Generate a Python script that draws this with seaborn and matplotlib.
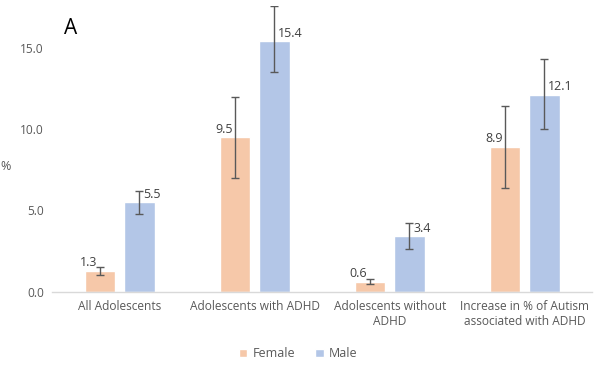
import numpy as np
import pandas as pd
import matplotlib.pyplot as plt
import seaborn as sns

# Data
groups = ["All Adolescents", "Adolescents with ADHD", "Adolescents without\nADHD",
          "Increase in % of Autism\nassociated with ADHD"]
female = [1.3, 9.5, 0.6, 8.9]
male = [5.5, 15.4, 3.4, 12.1]
female_lo = [1.05, 7.0, 0.45, 6.4]
female_hi = [1.55, 12.0, 0.8, 11.4]
male_lo = [4.8, 13.5, 2.6, 10.0]
male_hi = [6.2, 17.6, 4.2, 14.3]

df = pd.DataFrame({
    "group": groups * 2,
    "sex": ["Female"] * 4 + ["Male"] * 4,
    "value": female + male,
    "lo": female_lo + male_lo,
    "hi": female_hi + male_hi,
})

sns.set_theme(style="white")
plt.rcParams["font.family"] = ["Open Sans", "DejaVu Sans"]
text_col = "#595959"

fig = plt.figure(figsize=(6, 3.75), dpi=100)
ax = fig.add_axes([0.087, 0.222, 0.9, 0.763])

palette = {"Female": "#F6C8A9", "Male": "#B3C6E7"}
sns.barplot(data=df, x="group", y="value", hue="sex", palette=palette,
            width=0.58, gap=0.22, errorbar=None, saturation=1, ax=ax)

# error bars and labels, placed on the drawn bars
for cont, sex in zip(ax.containers, ["Female", "Male"]):
    sub = df[df.sex == sex].reset_index(drop=True)
    for bar, (_, row) in zip(cont.patches, sub.iterrows()):
        xc = bar.get_x() + bar.get_width() / 2
        v = row["value"]
        ax.errorbar(xc, v, yerr=[[v - row["lo"]], [row["hi"] - v]], fmt="none",
                    ecolor="#595959", elinewidth=1, capsize=3, capthick=1)
        if sex == "Female":
            ax.text(xc - 0.02, v + 0.1, f"{v:.1f}", ha="right", va="bottom",
                    fontsize=9, color="#404040")
        else:
            ax.text(xc + 0.03, v + 0.1, f"{v:.1f}", ha="left", va="bottom",
                    fontsize=9, color="#404040")

ax.set_ylim(0, 17.6)
ax.set_xlim(-0.5, 3.5)
ax.set_yticks([0, 5, 10, 15])
ax.set_yticklabels(["0.0", "5.0", "10.0", "15.0"])
ax.set_xlabel("")
ax.set_ylabel("")
ax.tick_params(axis="both", labelsize=8.6, colors=text_col, length=0, pad=6)
for s in ["top", "right", "left"]:
    ax.spines[s].set_visible(False)
ax.spines["bottom"].set_color("#D9D9D9")
ax.spines["bottom"].set_linewidth(1)

fig.text(0.0, 0.555, "%", fontsize=9, color=text_col, ha="left", va="center")
fig.text(0.107, 0.925, "A", fontsize=15, color="black", ha="left", va="center")

ax.legend(loc="upper center", bbox_to_anchor=(0.455, -0.155), ncol=2, frameon=False,
          fontsize=9, handlelength=0.7, handleheight=0.7, columnspacing=1.6,
          handletextpad=0.4, labelcolor=text_col)

fig.savefig("out.png", dpi=100, facecolor="white")
